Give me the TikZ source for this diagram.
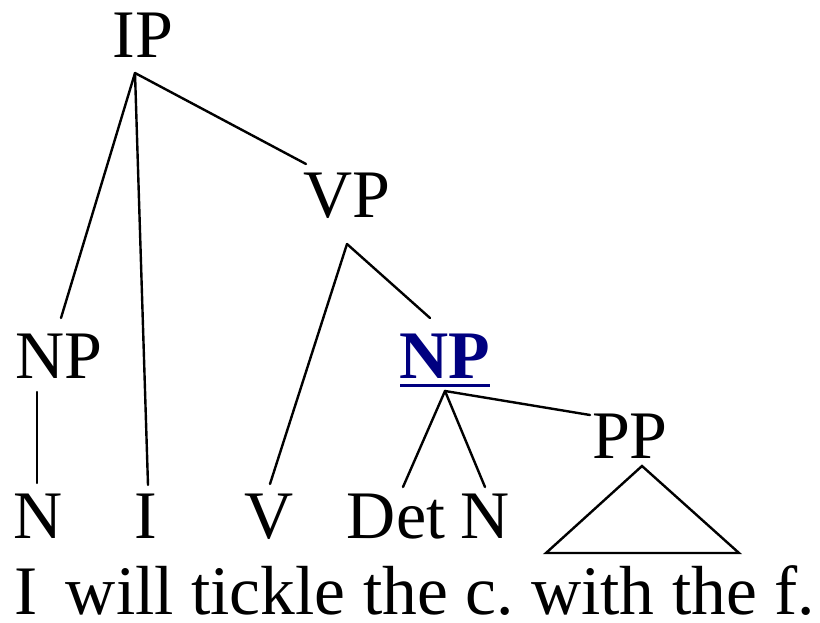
\documentclass[tikz,border=0pt]{standalone}
\usepackage{fontspec}
\setmainfont{Liberation Serif}
\newfontfamily\tms{Liberation Serif}
\definecolor{npblue}{RGB}{0,0,128}
\begin{document}
\frenchspacing
\begin{tikzpicture}[x=1pt,y=-1pt,
  lbl/.style={inner sep=0pt,anchor=base,font=\tms\fontsize{68}{70}\selectfont},
  edge/.style={line width=2.4pt,line cap=round}]
\useasboundingbox (0,0) rectangle (820,623);
% labels
\node[lbl] (IP) at (143,58) {IP};
\node[lbl] (VP) at (347,218) {VP};
\node[lbl] (NPl) at (59,378) {NP};
\node[lbl,text=npblue,font=\tms\fontsize{68}{70}\selectfont\bfseries] (NPb) at (445,378) {NP};
\node[lbl] (PP) at (630,458) {PP};
\node[lbl] (Nl) at (38.5,538) {N};
\node[lbl] (I) at (146,538) {I};
\node[lbl] (V) at (269,538) {V};
\node[lbl] (Det) at (396,538) {Det};
\node[lbl] (Nr) at (485.5,538) {N};
\node[lbl,anchor=base west,font=\tms\fontsize{69.5}{70}\selectfont] (S) at (14,614) {I\hspace{0.16em} will tickle the c. with the f.};
% underline
\draw[npblue,line width=3.2pt] (400,385.5) -- (490,385.5);
% attachment points
\coordinate (ipB) at (135,73);
\coordinate (vpT) at (306,164);
\coordinate (vpB) at (347,244);
\coordinate (nplT) at (61,318);
\coordinate (nplB) at (37,392);
\coordinate (npbT) at (430,318);
\coordinate (npbB) at (445,391);
\coordinate (iT) at (148,485);
\coordinate (vT) at (270,484);
\coordinate (nlT) at (37,483);
\coordinate (detT) at (403,487);
\coordinate (nrT) at (485,487);
\coordinate (ppT) at (590,415);
\coordinate (triA) at (642,466);
\coordinate (triL) at (546,553);
\coordinate (triR) at (739,553);
% edges
\draw[edge] (ipB) -- (nplT);
\draw[edge] (ipB) -- (iT);
\draw[edge] (ipB) -- (vpT);
\draw[edge] (vpB) -- (vT);
\draw[edge] (vpB) -- (npbT);
\draw[edge] (nplB) -- (nlT);
\draw[edge] (npbB) -- (detT);
\draw[edge] (npbB) -- (nrT);
\draw[edge] (npbB) -- (ppT);
\draw[edge,line join=miter] (triA) -- (triR) -- (triL) -- cycle;
\end{tikzpicture}
\end{document}
